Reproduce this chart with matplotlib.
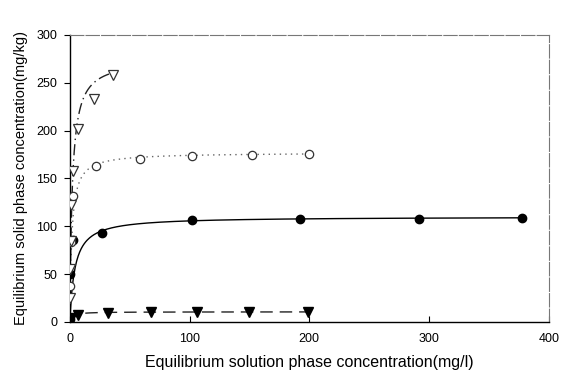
import numpy as np
import matplotlib
matplotlib.use('Agg')
import matplotlib.pyplot as plt

plt.rcParams['font.family'] = ['Liberation Sans', 'DejaVu Sans']

# Measured isotherm points (Ce in mg/l, qe in mg/kg)
filledCircleX = [0.3, 0.5, 2.5, 27, 102, 192, 292, 378]
filledCircleY = [3, 50, 86, 93, 107, 108, 108, 109]

openCircleX = [0.5, 1.0, 2.5, 22, 59, 102, 152, 200]
openCircleY = [37, 84, 132, 163, 170, 173, 175, 176]

openTriangleX = [0.3, 0.5, 1.2, 0.8, 3, 7, 20, 36]
openTriangleY = [25, 55, 85, 122, 158, 202, 233, 258]

filledTriangleX = [0.2, 1.0, 7, 32, 68, 106, 150, 199]
filledTriangleY = [2, 4, 7, 9, 10, 10, 10, 10]

# Langmuir fit parameters: (qmax, K, last Ce of the fitted range)
solidFit = (110, 0.24, 380)
dottedFit = (177, 0.6, 200)
dashDotFit = (275, 0.5, 37)
dashedFit = (10.5, 0.5, 200)


def langmuir(fit):
    qmax, k, cmax = fit
    c = np.linspace(0, cmax, 600)
    return c, qmax * k * c / (1 + k * c)


fig = plt.figure(figsize=(5.77, 3.76), dpi=100)
ax = fig.add_axes([0.121, 0.144, 0.830, 0.763])

c, q = langmuir(solidFit)
ax.plot(c, q, color='black', lw=1.0, zorder=2)
c, q = langmuir(dottedFit)
ax.plot(c, q, color='#666666', lw=1.0, linestyle=(0, (1, 3)), zorder=2)
c, q = langmuir(dashDotFit)
ax.plot(c, q, color='#222222', lw=1.0, linestyle=(0, (8, 3, 1, 3)), zorder=2)
c, q = langmuir(dashedFit)
ax.plot(c, q, color='#222222', lw=1.0, linestyle=(0, (9, 5)), zorder=2)

ax.plot(filledCircleX, filledCircleY, 'o', color='black', ms=6, zorder=3)
ax.plot(openCircleX, openCircleY, 'o', mfc='white', mec='#333333', mew=0.9, ms=6, zorder=3)
ax.plot(openTriangleX, openTriangleY, 'v', mfc='white', mec='#333333', mew=0.9, ms=7, zorder=3)
ax.plot(filledTriangleX, filledTriangleY, 'v', color='black', ms=6.5, zorder=3)

ax.set_xlim(0, 400)
ax.set_ylim(0, 300)
ax.set_xticks([0, 100, 200, 300, 400])
ax.set_yticks([0, 50, 100, 150, 200, 250, 300])
ax.tick_params(axis='x', direction='in', length=4, width=0.8, labelsize=9, pad=8)
ax.tick_params(axis='y', direction='out', length=4, width=0.8, labelsize=9, pad=5)

for side in ['left', 'bottom']:
    ax.spines[side].set_linewidth(1.0)
    ax.spines[side].set_color('black')
for side in ['top', 'right']:
    ax.spines[side].set_linewidth(0.8)
    ax.spines[side].set_color('#777777')
    ax.spines[side].set_linestyle((0, (12, 2)))

ax.set_xlabel('Equilibrium solution phase concentration(mg/l)', fontsize=11.5, labelpad=7)
ax.set_ylabel('Equilibrium solid phase concentration(mg/kg)', fontsize=10.5, labelpad=6)

fig.savefig('out.png', dpi=100)
